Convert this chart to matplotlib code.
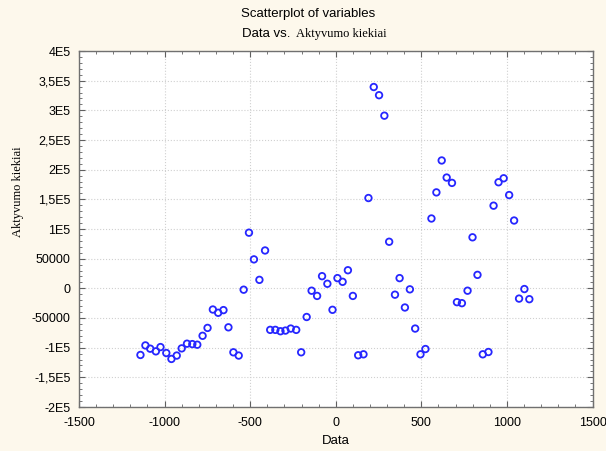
import matplotlib
matplotlib.use("Agg")
import matplotlib.pyplot as plt
from matplotlib.ticker import FixedLocator, MultipleLocator

W, H = 606, 451
BG = "#fdf8ec"

# Data
data = [-1141, -1112, -1084, -1051, -1024, -990, -960, -929, -900, -869,
        -838, -809, -778, -749, -718, -687, -656, -627, -598, -567,
        -538, -507, -478, -446, -413, -383, -353, -323, -294, -263,
        -231, -202, -170, -141, -109, -80, -49, -19, 10, 40,
        71, 100, 131, 162, 191, 222, 253, 284, 312, 346,
        373, 404, 433, 464, 495, 524, 559, 588, 619, 648,
        679, 708, 737, 770, 799, 828, 859, 892, 922, 951,
        981, 1013, 1042, 1071, 1102, 1131]
aktyvumo = [-112300, -96200, -101700, -106200, -99000, -109000, -119000, -113300, -101200, -93300,
            -94000, -95000, -80000, -66700, -35700, -41200, -36700, -65700, -107800, -113300,
            -2300, 93800, 48800, 14300, 63800, -70000, -70000, -72300, -71200, -67800,
            -70000, -107800, -48300, -4000, -12800, 20500, 7700, -36200, 17200, 11000,
            30500, -12800, -112800, -111200, 152200, 339300, 325500, 291000, 78500, -10700,
            17200, -32300, -1700, -67800, -111200, -102300, 117700, 161700, 215500, 186700,
            177700, -23300, -25000, -4000, 86000, 22700, -111200, -107300, 139300, 178800,
            185500, 157200, 114300, -17300, -1200, -18300]

x_ticks = [-1500, -1000, -500, 0, 500, 1000, 1500]
y_ticks = [-200000, -150000, -100000, -50000, 0, 50000, 100000, 150000,
           200000, 250000, 300000, 350000, 400000]
y_labels = ["-2E5", "-1,5E5", "-1E5", "-50000", "0", "50000", "1E5", "1,5E5",
            "2E5", "2,5E5", "3E5", "3,5E5", "4E5"]

fig = plt.figure(figsize=(W / 100, H / 100), dpi=100, facecolor=BG)
ax = fig.add_axes([79 / W, (H - 407) / H, 513.5 / W, 356 / H])
ax.set_facecolor("white")

ax.scatter(data, aktyvumo, s=22, facecolors="none", edgecolors="#2626ff",
           linewidths=1.3, zorder=3)

ax.set_xlim(-1500, 1500)
ax.set_ylim(-200000, 400000)
ax.xaxis.set_major_locator(FixedLocator(x_ticks))
ax.xaxis.set_minor_locator(MultipleLocator(100))
ax.yaxis.set_major_locator(FixedLocator(y_ticks))
ax.yaxis.set_minor_locator(MultipleLocator(10000))
ax.set_xticklabels([str(t) for t in x_ticks])
ax.set_yticklabels(y_labels)

ax.grid(True, which="major", color="#d0d0d0", linestyle=":", linewidth=0.8)
ax.tick_params(which="both", direction="in", top=True, right=True, colors="#606060",
               labelcolor="black", labelsize=9)
ax.tick_params(which="major", length=4)
ax.tick_params(which="minor", length=2)
ax.tick_params(axis="x", which="major", pad=7)
ax.tick_params(axis="y", which="major", pad=6)
for lbl in ax.get_xticklabels() + ax.get_yticklabels():
    lbl.set_family("Liberation Sans")
for sp in ax.spines.values():
    sp.set_color("#707070")
    sp.set_linewidth(1.0)

fig.text(308 / W, 1 - 14 / H, "Scatterplot of variables", ha="center", va="center",
         family="Liberation Sans", fontsize=9.5)
fig.text(290 / W, 1 - 34 / H, "Data vs.", ha="right", va="center",
         family="Liberation Sans", fontsize=9.5)
fig.text(296 / W, 1 - 34 / H, "Aktyvumo kiekiai", ha="left", va="center",
         family="Liberation Serif", fontsize=9)
fig.text(336 / W, 1 - 441 / H, "Data", ha="center", va="center",
         family="Liberation Sans", fontsize=9.5)
fig.text(18 / W, 1 - 192 / H, "Aktyvumo kiekiai", ha="center", va="center",
         rotation=90, family="Liberation Serif", fontsize=9)

fig.savefig("out.png", dpi=100, facecolor=BG)
